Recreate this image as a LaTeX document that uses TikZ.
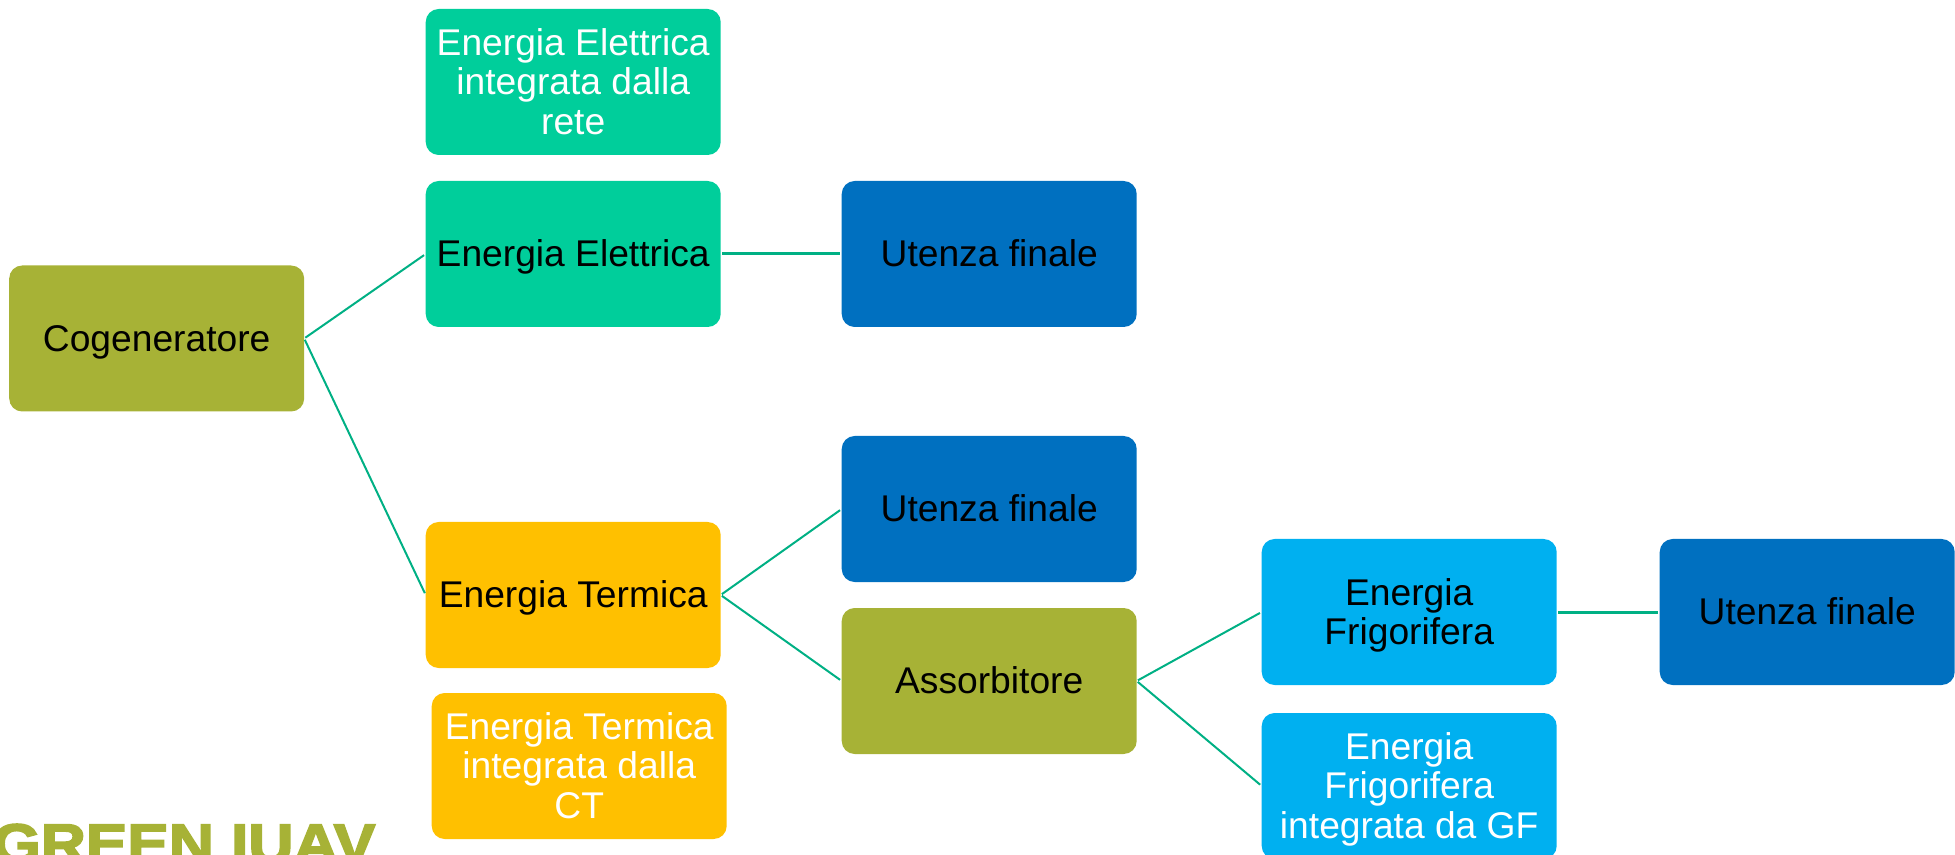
\documentclass[tikz,border=0pt]{standalone}
\usepackage{fontspec}
\setmainfont{Liberation Sans}
\newfontfamily\logofont[BoldFeatures={FakeBold=3.5,FakeStretch=1.12}]{Liberation Sans}
\usepackage{tikz}
\usetikzlibrary{
	positioning
}
\definecolor{olive}{HTML}{A7B236}
\definecolor{mint}{HTML}{00CE9B}
\definecolor{deepblue}{HTML}{0070C0}
\definecolor{amber}{HTML}{FFC000}
\definecolor{skyblue}{HTML}{00B0F0}
\definecolor{linkgreen}{HTML}{00B084}
\newcommand{\toprise}{\rule{0pt}{17.04pt}}
\tikzset{
	box/.style={rectangle,rounded corners=6.5pt,minimum width=147.5pt,minimum height=73pt,
		inner sep=0pt,outer sep=0pt,align=center,
		font=\fontsize{18.6}{19.6}\selectfont,
		execute at end node={\rule[-4.2pt]{0pt}{4.2pt}}},
	link/.style={draw=linkgreen,line width=1pt,shorten <=0.7pt,shorten >=1pt},
	thicklink/.style={link,line width=1.5pt}
}

\begin{document}
\begin{tikzpicture}[x=0.5pt,y=-0.5pt]
	\useasboundingbox (0,0) rectangle (1955,855);
	\draw
		node [box,fill=olive] at (156.7,338.5)                    (cog)  {\toprise Cogeneratore}
		node [box,fill=mint,right=60.75pt of cog,yshift=42.25pt]  (ee)   {\toprise Energia Elettrica}
		node [box,fill=mint,text=white,above=13pt of ee]          (eer)  {\toprise Energia Elettrica\\integrata dalla\\rete}
		node [box,fill=deepblue,right=60.5pt of ee]               (ute)  {\toprise Utenza finale}
		node [box,fill=amber,right=60.75pt of cog,yshift=-128.25pt] (et) {\toprise Energia Termica}
		node [box,fill=amber,text=white,below=12.5pt of et,xshift=3pt] (etr) {\toprise Energia Termica\\integrata dalla\\CT}
		node [box,fill=deepblue,right=60.5pt of et,yshift=43pt]   (utt)  {\toprise Utenza finale}
		node [box,fill=olive,below=13pt of utt]                   (ass)  {\toprise Assorbitore}
		node [box,fill=skyblue,right=62.5pt of ass,yshift=34.5pt] (ef)   {\toprise Energia\\Frigorifera}
		node [box,fill=skyblue,text=white,below=14pt of ef]       (efr)  {\toprise Energia\\Frigorifera\\integrata da GF}
		node [box,fill=deepblue,right=51.5pt of ef]               (utf)  {\toprise Utenza finale}

		(cog.east) edge[link]      (ee.west)
		(cog.east) edge[link]      (et.west)
		(ee.east)  edge[thicklink] (ute.west)
		(et.east)  edge[link]      (utt.west)
		(et.east)  edge[link]      (ass.west)
		(ass.east) edge[link]      (ef.west)
		(ass.east) edge[link]      (efr.west)
		(ef.east)  edge[thicklink] (utf.west)
	;
	\node [anchor=base west,inner sep=0pt,text=olive,font=\logofont\bfseries\fontsize{27.8}{28}\selectfont] (logo) at (-8,863) {GREEN IUAV};
\end{tikzpicture}
\end{document}
